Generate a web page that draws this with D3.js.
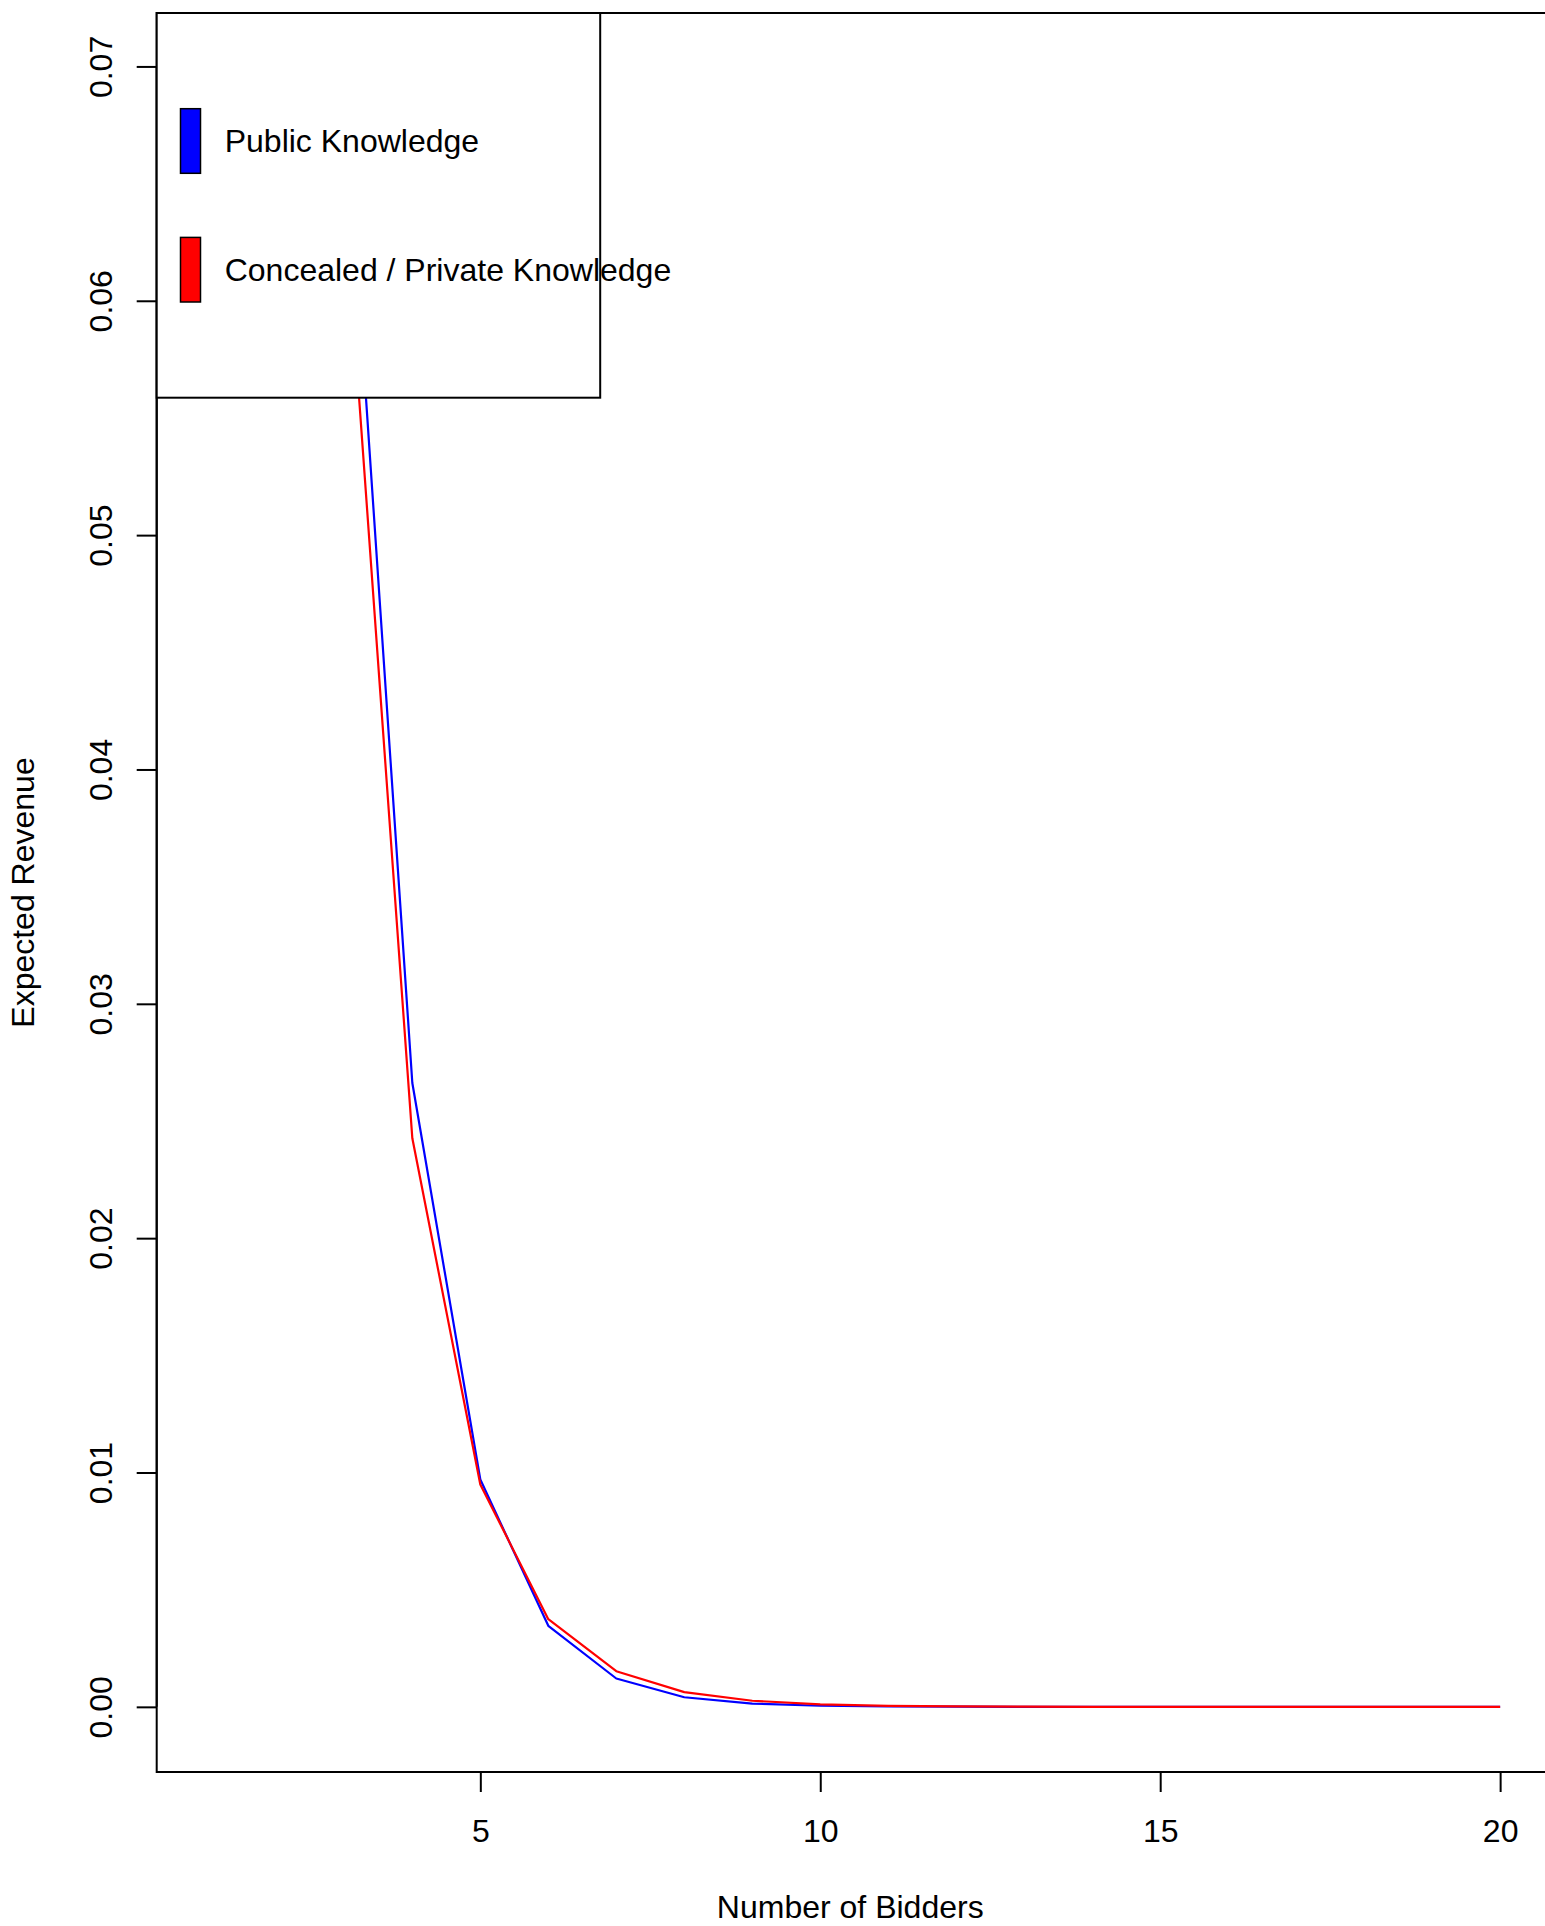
<!DOCTYPE html>
<html>
<head>
<meta charset="utf-8">
<script src="https://cdn.jsdelivr.net/npm/d3@7"></script>
<style>
    body { margin: 0; background: #fff; }
    svg text { font-family: "Liberation Sans", Arial, Helvetica, sans-serif; fill: #000; }
</style>
</head>
<body>
<svg id="chart" width="1545" height="1926"></svg>
<script>
// number of bidders (curves only visible from 3 on, axis spans 1..20)
var xLimits = [1, 20];
var bidders = [3, 4, 5, 6, 7, 8, 9, 10, 11, 12, 13, 14, 15, 16, 17, 18, 19, 20];

var publicRevenue = [0.0695, 0.02662, 0.0097, 0.00346, 0.00121, 0.00041, 0.00014, 0.000048,
    0.000016, 0.0000055, 0.0000019, 0.0000006, 0.0000002, 0.0000001, 0, 0, 0, 0];
var privateRevenue = [0.0646, 0.02426, 0.00949, 0.00374, 0.00152, 0.00063, 0.00026, 0.000107,
    0.000044, 0.000018, 0.0000075, 0.000003, 0.0000013, 0.0000005, 0.0000002, 0.0000001, 0, 0];

var xTicks = [5, 10, 15, 20];
var yTicks = [0, 0.01, 0.02, 0.03, 0.04, 0.05, 0.06, 0.07];

var legendLabels = ["Public Knowledge", "Concealed / Private Knowledge"];
var seriesColors = ["#0000ff", "#ff0000"];

(function() {
    var plot = { left: 156.7, right: 1551.8, top: 13, bottom: 1772 };
    var fontSize = 32;
    var tickLen = 20;

    var svg = d3.select("#chart");

    // R style 4% padding on both ends
    function pad(ext) {
        var d = (ext[1] - ext[0]) * 0.04;
        return [ext[0] - d, ext[1] + d];
    }

    var yMax = d3.max(publicRevenue.concat(privateRevenue));

    var x = d3.scaleLinear()
        .domain(pad(xLimits))
        .range([plot.left, plot.right]);

    var y = d3.scaleLinear()
        .domain(pad([0, yMax]))
        .range([plot.bottom, plot.top]);

    var series = [publicRevenue, privateRevenue];

    var line = d3.line()
        .x(function(d) { return x(d[0]); })
        .y(function(d) { return y(d[1]); });

    svg.selectAll("path.series")
        .data(series)
        .enter()
        .append("path")
        .attr("class", "series")
        .attr("fill", "none")
        .attr("stroke", function(d, i) { return seriesColors[i]; })
        .attr("stroke-width", 2.2)
        .attr("stroke-linejoin", "round")
        .attr("d", function(vals) {
            return line(bidders.map(function(b, i) { return [b, vals[i]]; }));
        });

    // bottom axis
    var xAxis = svg.append("g")
        .attr("transform", "translate(0," + plot.bottom + ")")
        .call(d3.axisBottom(x).tickValues(xTicks).tickSize(tickLen).tickPadding(0).tickFormat(d3.format("d")));
    xAxis.select(".domain")
        .attr("d", "M" + x(xTicks[0]) + ",0H" + x(xTicks[xTicks.length - 1]));
    xAxis.selectAll("line, path").attr("stroke", "#000").attr("stroke-width", 2);
    xAxis.selectAll("text")
        .attr("y", 59)
        .attr("dy", "0.35em")
        .style("font-size", fontSize + "px")
        .style("font-family", "'Liberation Sans', Arial, sans-serif");

    // left axis, labels rotated like R
    var yAxis = svg.append("g")
        .attr("transform", "translate(" + plot.left + ",0)")
        .call(d3.axisLeft(y).tickValues(yTicks).tickSize(tickLen).tickFormat(d3.format(".2f")));
    yAxis.select(".domain")
        .attr("d", "M0," + y(yTicks[0]) + "V" + y(yTicks[yTicks.length - 1]));
    yAxis.selectAll("line, path").attr("stroke", "#000").attr("stroke-width", 2);
    yAxis.selectAll("text")
        .attr("x", null)
        .attr("transform", "translate(-56,0) rotate(-90)")
        .attr("text-anchor", "middle")
        .attr("dy", "0.35em")
        .style("font-size", fontSize + "px")
        .style("font-family", "'Liberation Sans', Arial, sans-serif");

    // box
    svg.append("rect")
        .attr("x", plot.left)
        .attr("y", plot.top)
        .attr("width", plot.right - plot.left)
        .attr("height", plot.bottom - plot.top)
        .attr("fill", "none")
        .attr("stroke", "#000")
        .attr("stroke-width", 2);

    // axis titles
    svg.append("text")
        .attr("x", (plot.left + plot.right) / 2 - 4)
        .attr("y", 1907)
        .attr("dy", "0.35em")
        .attr("text-anchor", "middle")
        .style("font-size", fontSize + "px")
        .text("Number of Bidders");

    svg.append("text")
        .attr("transform", "translate(23," + (plot.top + plot.bottom) / 2 + ") rotate(-90)")
        .attr("dy", "0.35em")
        .attr("text-anchor", "middle")
        .style("font-size", fontSize + "px")
        .text("Expected Revenue");

    // legend (opaque, covers the lines)
    var legend = svg.append("g");
    legend.append("rect")
        .attr("x", plot.left)
        .attr("y", plot.top)
        .attr("width", 443.5)
        .attr("height", 384.7)
        .attr("fill", "#fff")
        .attr("stroke", "#000")
        .attr("stroke-width", 2);

    var items = legend.selectAll("g.item")
        .data(legendLabels)
        .enter()
        .append("g")
        .attr("class", "item")
        .attr("transform", function(d, i) { return "translate(0," + (141 + i * 128.7) + ")"; });

    items.append("rect")
        .attr("x", 180.5)
        .attr("y", -32.3)
        .attr("width", 20)
        .attr("height", 64.6)
        .attr("fill", function(d, i) { return seriesColors[i]; })
        .attr("stroke", "#000")
        .attr("stroke-width", 1.5);

    items.append("text")
        .attr("x", 224.7)
        .attr("dy", "0.35em")
        .style("font-size", fontSize + "px")
        .text(function(d) { return d; });
}());
</script>
</body>
</html>
